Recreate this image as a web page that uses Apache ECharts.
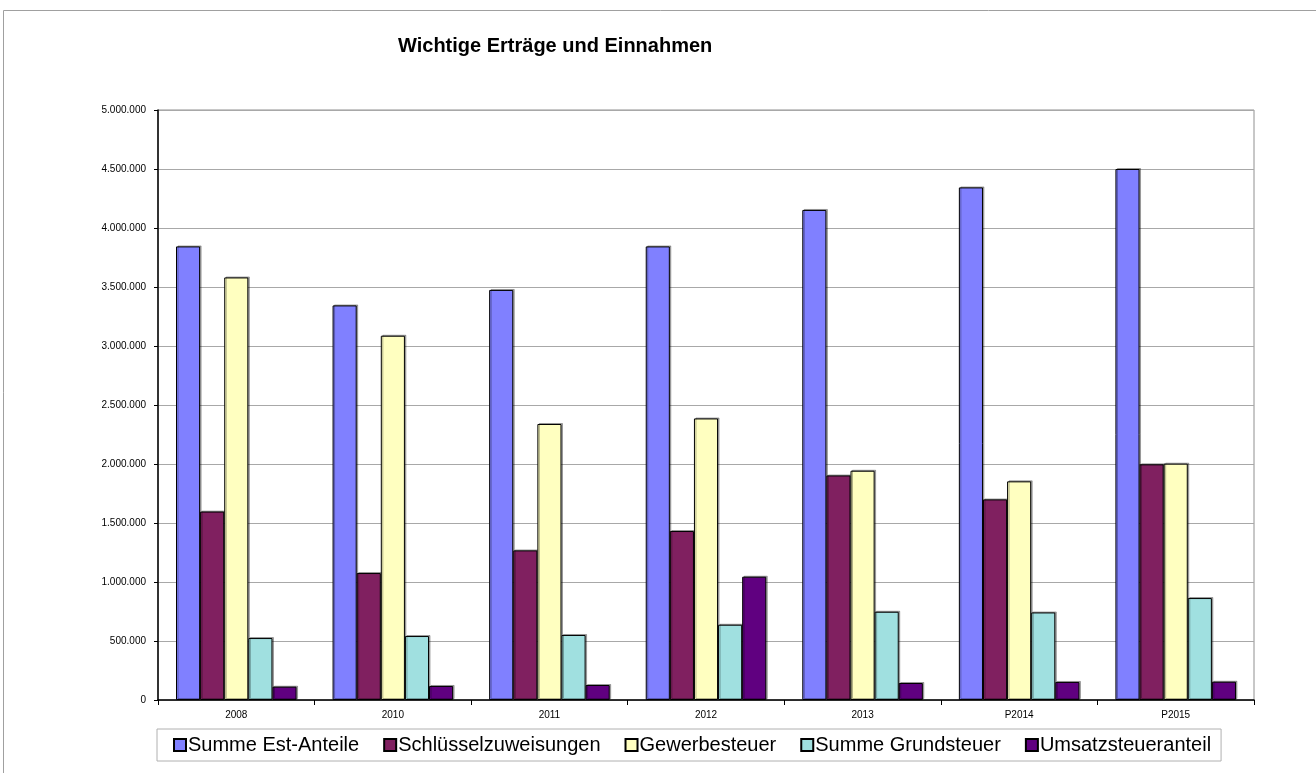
<!DOCTYPE html>
<html>
<head>
<meta charset="utf-8">
<title>Wichtige Erträge und Einnahmen</title>
<script src="https://cdn.jsdelivr.net/npm/echarts@6/dist/echarts.min.js"></script>
<style>
  html, body { margin: 0; padding: 0; background: #ffffff; }
  #chart { width: 1316px; height: 773px; }
</style>
</head>
<body>
<div id="chart"></div>
<script>
// Jahre (P = Planwerte)
const categories = ['2008', '2010', '2011', '2012', '2013', 'P2014', 'P2015'];

// Beträge in Euro je Jahr
const estAnteile        = [3844000, 3344000, 3475000, 3844000, 4153000, 4344000, 4500000];
const schluessel        = [1597000, 1076000, 1268000, 1432000, 1903000, 1700000, 1997000];
const gewerbesteuer     = [3581000, 3087000, 2339000, 2386000, 1943000, 1853000, 2003000];
const grundsteuer       = [525000, 542000, 551000, 638000, 748000, 742000, 864000];
const umsatzsteuer      = [113000, 119000, 127000, 1045000, 144000, 153000, 155000];

const seriesNames = ['Summe Est-Anteile', 'Schlüsselzuweisungen', 'Gewerbesteuer', 'Summe Grundsteuer', 'Umsatzsteueranteil'];
const seriesData  = [estAnteile, schluessel, gewerbesteuer, grundsteuer, umsatzsteuer];
const seriesColors = ['#8080FF', '#802060', '#FFFFC0', '#A0E0E0', '#600080'];

// Achsenbeschriftung mit Tausenderpunkten
function fmt(v) {
  return String(Math.round(v)).replace(/\B(?=(\d{3})+(?!\d))/g, '.');
}

const FONT = '"Liberation Sans", Arial, sans-serif';

const chart = echarts.init(document.getElementById('chart'), null, { renderer: 'canvas' });

chart.setOption({
  animation: false,
  backgroundColor: '#ffffff',
  textStyle: { fontFamily: FONT },
  graphic: [{
    type: 'rect',
    shape: { x: 3.5, y: 10.5, width: 1330, height: 800 },
    style: { fill: 'none', stroke: '#a0a0a0', lineWidth: 1 },
    silent: true,
    z: -10
  }],
  title: {
    text: 'Wichtige Erträge und Einnahmen',
    left: 393,
    top: 31,
    textStyle: { fontFamily: FONT, fontSize: 20, fontWeight: 'bold', color: '#000' }
  },
  legend: {
    data: seriesNames,
    left: 157,
    top: 729,
    padding: [6, 10, 6, 16],
    itemGap: 24,
    itemWidth: 12,
    itemHeight: 12,
    icon: 'rect',
    borderColor: '#b0b0b0',
    borderWidth: 1,
    textStyle: { fontFamily: FONT, fontSize: 20, color: '#000', padding: [0, 0, 0, -3] }
  },
  grid: {
    left: 158,
    right: 62,
    top: 110,
    bottom: 73,
    show: true,
    borderColor: '#909090',
    borderWidth: 1
  },
  xAxis: {
    type: 'category',
    data: categories,
    axisLine: { lineStyle: { color: '#000', width: 1.5 } },
    axisTick: { show: true, alignWithLabel: false, length: 5, lineStyle: { color: '#000' } },
    axisLabel: { fontFamily: FONT, fontSize: 10, color: '#000', margin: 10 },
    splitLine: { show: false }
  },
  yAxis: {
    type: 'value',
    min: 0,
    max: 5000000,
    interval: 500000,
    axisLine: { show: true, lineStyle: { color: '#000', width: 1.5 } },
    axisTick: { show: true, length: 4, lineStyle: { color: '#000' } },
    axisLabel: { fontFamily: FONT, fontSize: 10, color: '#000', margin: 12, formatter: fmt },
    splitLine: { show: true, lineStyle: { color: '#a8a8a8', width: 1 } }
  },
  series: seriesNames.map((name, i) => ({
    name: name,
    type: 'bar',
    data: seriesData[i],
    barGap: '0%',
    barCategoryGap: '23%',
    itemStyle: {
      color: seriesColors[i],
      borderColor: '#000',
      borderWidth: 1,
      shadowColor: 'rgba(0,0,0,0.3)',
      shadowOffsetX: 1.5,
      shadowOffsetY: -1,
      shadowBlur: 0
    }
  }))
});
</script>
</body>
</html>
